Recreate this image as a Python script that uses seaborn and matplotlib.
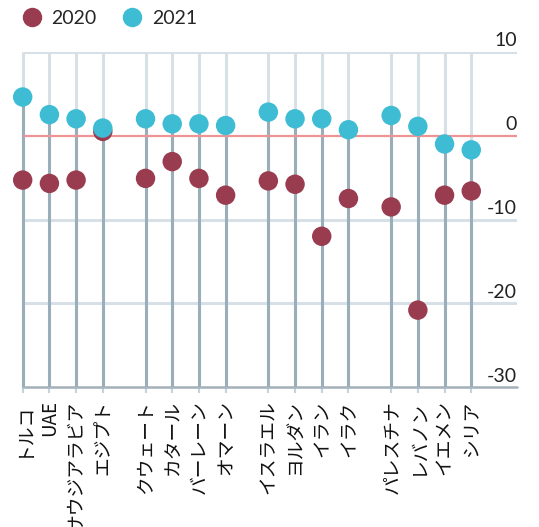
import numpy as np
import pandas as pd
import matplotlib
matplotlib.use("Agg")
import matplotlib.pyplot as plt
import seaborn as sns

countries = ["トルコ", "UAE", "サウジアラビア", "エジプト",
             "クウェート", "カタール", "バーレーン", "オマーン",
             "イスラエル", "ヨルダン", "イラン", "イラク",
             "パレスチナ", "レバノン", "イエメン", "シリア"]
groups = [0, 0, 0, 0, 1, 1, 1, 1, 2, 2, 2, 2, 3, 3, 3, 3]
v2020 = [-5.3, -5.7, -5.3, 0.5, -5.1, -3.1, -5.1, -7.1,
         -5.4, -5.8, -12.0, -7.5, -8.5, -20.8, -7.1, -6.6]
v2021 = [4.6, 2.5, 2.0, 0.9, 2.0, 1.4, 1.4, 1.2,
         2.8, 2.0, 2.0, 0.7, 2.4, 1.1, -1.0, -1.7]
years = ["2020", "2021"]
yticks = [10, 0, -10, -20, -30]

sns.set_style("white")
plt.rcParams["font.family"] = ["Lato", "Noto Sans CJK JP", "DejaVu Sans"]

pos = np.arange(len(countries)) + 0.6 * np.array(groups)
df = pd.DataFrame({
    "pos": np.concatenate([pos, pos]),
    "value": v2020 + v2021,
    "year": [years[0]] * len(v2020) + [years[1]] * len(v2021),
})

W, H = 539, 527
fig = plt.figure(figsize=(W / 100, H / 100), dpi=100)
left_px, right_px = 22.7, 517
top_px, bot_px = 51.7, 387.3
ax = fig.add_axes([left_px / W, 1 - bot_px / H, (right_px - left_px) / W, (bot_px - top_px) / H])

xmax = (right_px - left_px) / 26.7
ax.set_xlim(0, xmax)
ax.set_ylim(-30, 10)

light = "#d6e0e6"
dark = "#9aaeba"
# gridlines
for g in [10, -10, -20]:
    ax.axhline(g, color=light, lw=2.2, zorder=1)
ax.axhline(-30, color="#a3b0b8", lw=1.8, zorder=2, clip_on=False)

# vertical stems
ax.vlines(pos, -30, 10, color=light, lw=2.2, zorder=2, clip_on=False)
upper = np.maximum(v2020, v2021)
ax.vlines(pos, -30, upper, color=dark, lw=2.2, zorder=3, clip_on=False)

ax.axhline(0, color="#ee9494", lw=1.6, zorder=4)

palette = {"2020": "#9a3c4f", "2021": "#3dbcd4"}
sns.scatterplot(data=df, x="pos", y="value", hue="year", palette=palette,
                s=196, linewidth=0, ax=ax, zorder=5, clip_on=False, legend=True)

handles, labels = ax.get_legend_handles_labels()
ax.get_legend().remove()
fig.legend(handles, labels, loc="center left", bbox_to_anchor=(20 / W, 1 - 18.3 / H),
           ncol=2, frameon=False, fontsize=14, handlelength=1.2, handletextpad=0.4,
           columnspacing=1.25, borderpad=0, borderaxespad=0, markerscale=1.0)

for t in yticks:
    ax.annotate(str(t), xy=(1, t), xycoords=("axes fraction", "data"),
                xytext=(0, 2), textcoords="offset points",
                ha="right", va="bottom", fontsize=14, color="#222222")

ax.set_xticks(pos)
ax.set_xticklabels(countries, rotation=90, fontsize=13.5, color="#111111",
                   family=["Noto Sans CJK JP", "DejaVu Sans"])
ax.tick_params(axis="x", length=4.5, width=1.6, color="#c5d3dc", pad=5, bottom=True)
ax.set_yticks([])
ax.set_xlabel("")
ax.set_ylabel("")
for s in ax.spines.values():
    s.set_visible(False)

fig.savefig("out.png", dpi=100)
